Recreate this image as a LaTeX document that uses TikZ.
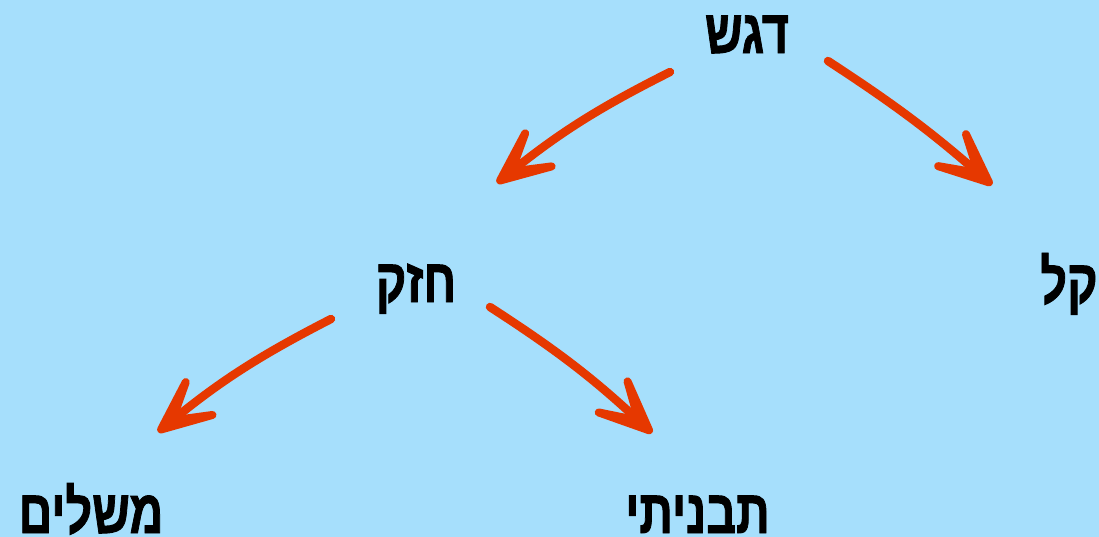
\documentclass[tikz,border=0pt]{standalone}
\usepackage{fontspec}
\newfontfamily\hebfont[Script=Hebrew, BoldFeatures={FakeBold=1.6}]{Liberation Sans}
\TeXXeTstate=1
\usetikzlibrary{arrows.meta}

\definecolor{skyBg}{RGB}{166,223,252}
\definecolor{arrRed}{RGB}{230,56,0}

\begin{document}
\begin{tikzpicture}[
    word/.style={font=\hebfont\bfseries\fontsize{17.5}{19}\selectfont,
                 anchor=base, inner sep=0pt, xscale=0.76, transform shape},
    curvy/.style={draw=arrRed, line width=2.4pt, line cap=round,
                  -{Stealth[length=1.1cm, width=0.95cm, inset=0.78cm, round]}},
]

% background
\useasboundingbox (0,0) rectangle (10.99,-5.37);
\fill[skyBg] (0,0) rectangle (10.99,-5.37);

% words
\node[word] (dagesh)  at (7.47,-0.53) {\beginR דגש\endR};
\node[word] (hazak)   at (4.16,-3.02) {\beginR חזק\endR};
\node[word] (kal)     at (10.69,-3.03) {\beginR קל\endR};
\node[word] (mashlim) at (0.91,-5.33) {\beginR משלים\endR};
\node[word] (tavniti) at (6.975,-5.33) {\beginR תבניתי\endR};

% arrows
\draw[curvy] ([shift={(-0.77,-0.19)}]dagesh.base) to[bend right=6]
    ([shift={(0.81,1.19)}]hazak.base);
\draw[curvy] ([shift={(0.81,-0.08)}]dagesh.base) to[bend left=4]
    ([shift={(-0.77,1.18)}]kal.base);
\draw[curvy] ([shift={(-0.85,-0.17)}]hazak.base) to[bend right=6]
    ([shift={(0.67,1.01)}]mashlim.base);
\draw[curvy] ([shift={(0.74,-0.05)}]hazak.base) to[bend left=5]
    ([shift={(-0.455,1.00)}]tavniti.base);

\end{tikzpicture}
\end{document}
